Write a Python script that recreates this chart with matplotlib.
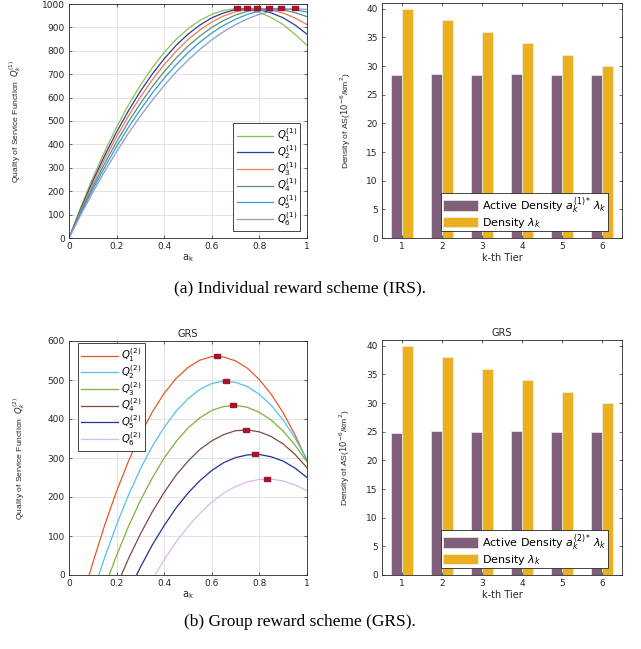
import matplotlib.pyplot as plt

plt.rcParams['font.family'] = ['DejaVu Sans']
plt.rcParams['mathtext.fontset'] = 'dejavusans'

# ---- IRS: quality of service curves Q_k^(1) ----
irs_a = [0.0, 0.05, 0.1, 0.15, 0.2, 0.25, 0.3, 0.35, 0.4, 0.45, 0.5,
         0.55, 0.6, 0.65, 0.7, 0.75, 0.8, 0.85, 0.9, 0.95, 1.0]
irs_q1 = [0, 133, 257, 370, 474, 569, 653, 728, 793, 849, 894,
          930, 956, 973, 980, 977, 964, 942, 912, 870, 824]
irs_q2 = [0, 126, 244, 353, 453, 544, 627, 701, 766, 823, 871,
          910, 941, 962, 976, 980, 976, 962, 941, 910, 871]
irs_q3 = [0, 120, 232, 337, 433, 522, 603, 676, 741, 798, 848,
          889, 923, 949, 967, 977, 980, 974, 961, 940, 912]
irs_q4 = [0, 113, 219, 319, 411, 497, 575, 647, 711, 769, 820,
          863, 900, 930, 953, 969, 978, 980, 975, 963, 946]
irs_q5 = [0, 107, 208, 302, 391, 473, 549, 619, 683, 740, 792,
          837, 876, 909, 935, 956, 970, 978, 980, 975, 966]
irs_q6 = [0, 100, 195, 285, 369, 448, 521, 589, 652, 709, 760,
          806, 847, 882, 912, 937, 956, 969, 977, 980, 977]
irs_peak_a = [0.707, 0.749, 0.790, 0.842, 0.891, 0.950]
irs_peak_q = [983, 983, 983, 983, 983, 983]

# ---- GRS: quality of service curves Q_k^(2) ----
grs_a1 = [0.085, 0.10, 0.15, 0.20, 0.25, 0.30, 0.35, 0.40, 0.45, 0.50, 0.55,
          0.60, 0.65, 0.70, 0.75, 0.80, 0.85, 0.90, 0.95, 1.0]
grs_q1 = [0, 31, 128, 215, 292, 360, 418, 466, 504, 532, 551,
          560, 559, 549, 530, 501, 463, 416, 359, 293]
grs_a2 = [0.125, 0.15, 0.20, 0.25, 0.30, 0.35, 0.40, 0.45, 0.50, 0.55,
          0.60, 0.65, 0.70, 0.75, 0.80, 0.85, 0.90, 0.95, 1.0]
grs_q2 = [0, 45, 129, 205, 272, 330, 379, 420, 452, 476,
          491, 497, 494, 483, 463, 435, 397, 351, 296]
grs_a3 = [0.169, 0.20, 0.25, 0.30, 0.35, 0.40, 0.45, 0.50, 0.55,
          0.60, 0.65, 0.70, 0.75, 0.80, 0.85, 0.90, 0.95, 1.0]
grs_q3 = [0, 50, 125, 191, 249, 300, 342, 377, 403,
          422, 432, 435, 430, 417, 397, 369, 333, 290]
grs_a4 = [0.220, 0.25, 0.30, 0.35, 0.40, 0.45, 0.50, 0.55,
          0.60, 0.65, 0.70, 0.75, 0.80, 0.85, 0.90, 0.95, 1.0]
grs_q4 = [0, 42, 105, 162, 212, 256, 292, 322,
          344, 360, 370, 372, 367, 355, 336, 309, 275]
grs_a5 = [0.284, 0.30, 0.35, 0.40, 0.45, 0.50, 0.55,
          0.60, 0.65, 0.70, 0.75, 0.80, 0.85, 0.90, 0.95, 1.0]
grs_q5 = [0, 20, 77, 127, 172, 210, 242,
          268, 288, 301, 308, 309, 303, 292, 274, 250]
grs_a6 = [0.361, 0.40, 0.45, 0.50, 0.55,
          0.60, 0.65, 0.70, 0.75, 0.80, 0.85, 0.90, 0.95, 1.0]
grs_q6 = [0, 39, 85, 124, 158,
          187, 210, 227, 239, 245, 246, 241, 231, 216]
grs_peak_a = [0.621, 0.661, 0.691, 0.742, 0.781, 0.830]
grs_peak_q = [561, 497, 435, 372, 309, 246]

# ---- bar charts ----
tiers = [1, 2, 3, 4, 5, 6]
density = [40, 38, 36, 34, 32, 30]
active_irs = [28.45, 28.55, 28.5, 28.65, 28.5, 28.5]
active_grs = [24.85, 25.15, 24.9, 25.2, 25.0, 25.0]

irs_colors = ['#8cc152', '#2a3c9c', '#f07a55', '#5a8f72', '#2f9be0', '#8a9ccc']
grs_colors = ['#e2582a', '#55c0ec', '#7db23a', '#7a4b40', '#1f3199', '#d9b8f5']
marker_color = '#a2142f'
purple = '#7f5f7a'
yellow = '#ebb020'
dark = '#262626'

rect = [(-1, -0.55), (1, -0.55), (1, 0.55), (-1, 0.55), (-1, -0.55)]

W, H = 641, 649


def add_axes(x0, y0, x1, y1):
    return fig.add_axes([x0 / W, 1 - y1 / H, (x1 - x0) / W, (y1 - y0) / H])


def style(ax, grid):
    for s in ax.spines.values():
        s.set_linewidth(0.6)
        s.set_color(dark)
    ax.tick_params(direction='in', length=2.5, width=0.5, top=True, right=True,
                   labelsize=6.5, colors=dark, pad=3)
    if grid:
        ax.grid(True, color='#dedede', linewidth=0.6)
        ax.set_axisbelow(True)


def line_legend(ax, loc, anchor):
    leg = ax.legend(loc=loc, bbox_to_anchor=anchor, borderaxespad=0,
                    fontsize=7.3, handlelength=3.6, handletextpad=0.35,
                    labelspacing=-0.12, fancybox=False, framealpha=1,
                    edgecolor=dark, borderpad=0.33)
    leg.get_frame().set_linewidth(0.6)


def bar_legend(ax):
    leg = ax.legend(loc='lower right', bbox_to_anchor=(0.942, 0.03), borderaxespad=0,
                    fontsize=8, handlelength=3.2, handleheight=1.05,
                    handletextpad=0.35, labelspacing=0.0, fancybox=False,
                    framealpha=1, edgecolor=dark, borderpad=0.12)
    leg.get_frame().set_linewidth(0.6)


ylab_font = dict(family=['Liberation Sans', 'DejaVu Sans'], fontsize=6.1)

fig = plt.figure(figsize=(6.41, 6.49), dpi=100)

# ---------- top left ----------
ax = add_axes(69, 4, 307, 238)
style(ax, True)
for i, q in enumerate([irs_q1, irs_q2, irs_q3, irs_q4, irs_q5, irs_q6]):
    ax.plot(irs_a, q, color=irs_colors[i], lw=0.9, label=r'$Q_{%d}^{(1)}$' % (i + 1))
ax.plot(irs_peak_a, irs_peak_q, ls='none', marker=rect, ms=4.8, color=marker_color)
ax.set_xlim(0, 1)
ax.set_ylim(0, 1000)
ax.set_xticks([0, 0.2, 0.4, 0.6, 0.8, 1])
ax.set_xticklabels(['0', '0.2', '0.4', '0.6', '0.8', '1'])
ax.set_yticks(range(0, 1001, 100))
ax.set_xlabel(r'$\mathrm{a_k}$', fontsize=7, color=dark, labelpad=1)
ax.set_ylabel(r'Quality of Service Function  $Q_k^{(1)}$', color=dark, **ylab_font)
ax.yaxis.set_label_coords(-0.195, 0.5)
line_legend(ax, 'lower right', (0.971, 0.03))

# ---------- top right ----------
ax = add_axes(382, 3, 622, 238)
style(ax, False)
ax.bar([t - 0.14 for t in tiers], active_irs, width=0.27, color=purple,
       edgecolor='#eeeeee', linewidth=0.5, label=r'Active Density $a_k^{(1)*}\,\lambda_k$')
ax.bar([t + 0.14 for t in tiers], density, width=0.27, color=yellow,
       edgecolor='#eeeeee', linewidth=0.5, label=r'Density $\lambda_k$')
ax.set_xlim(0.5, 6.5)
ax.set_ylim(0, 41)
ax.set_xticks(tiers)
ax.set_yticks(range(0, 41, 5))
ax.set_xlabel('k-th Tier', fontsize=7, color=dark, labelpad=1)
ax.set_ylabel(r'Density of AS($10^{-6}$/km$^2$)', color=dark, **ylab_font)
ax.yaxis.set_label_coords(-0.12, 0.5)
bar_legend(ax)

# ---------- bottom left ----------
ax = add_axes(69, 341, 307, 575)
style(ax, True)
grs_curves = [(grs_a1, grs_q1), (grs_a2, grs_q2), (grs_a3, grs_q3),
              (grs_a4, grs_q4), (grs_a5, grs_q5), (grs_a6, grs_q6)]
for i, (a, q) in enumerate(grs_curves):
    ax.plot(a, q, color=grs_colors[i], lw=0.9, label=r'$Q_{%d}^{(2)}$' % (i + 1))
ax.plot(grs_peak_a, grs_peak_q, ls='none', marker=rect, ms=4.8, color=marker_color)
ax.set_xlim(0, 1)
ax.set_ylim(0, 600)
ax.set_xticks([0, 0.2, 0.4, 0.6, 0.8, 1])
ax.set_xticklabels(['0', '0.2', '0.4', '0.6', '0.8', '1'])
ax.set_yticks(range(0, 601, 100))
ax.set_title('GRS', fontsize=7, color=dark, pad=3)
ax.set_xlabel(r'$\mathrm{a_k}$', fontsize=7, color=dark, labelpad=1)
ax.set_ylabel(r'Quality of Service Function  $Q_k^{(2)}$', color=dark, **ylab_font)
ax.yaxis.set_label_coords(-0.176, 0.5)
line_legend(ax, 'upper left', (0.038, 0.991))

# ---------- bottom right ----------
ax = add_axes(382, 340, 622, 575)
style(ax, False)
ax.bar([t - 0.14 for t in tiers], active_grs, width=0.27, color=purple,
       edgecolor='#eeeeee', linewidth=0.5, label=r'Active Density $a_k^{(2)*}\,\lambda_k$')
ax.bar([t + 0.14 for t in tiers], density, width=0.27, color=yellow,
       edgecolor='#eeeeee', linewidth=0.5, label=r'Density $\lambda_k$')
ax.set_xlim(0.5, 6.5)
ax.set_ylim(0, 41)
ax.set_xticks(tiers)
ax.set_yticks(range(0, 41, 5))
ax.set_title('GRS', fontsize=7, color=dark, pad=3)
ax.set_xlabel('k-th Tier', fontsize=7, color=dark, labelpad=1)
ax.set_ylabel(r'Density of AS($10^{-6}$/km$^2$)', color=dark, **ylab_font)
ax.yaxis.set_label_coords(-0.125, 0.5)
bar_legend(ax)

# ---------- captions ----------
fig.text(300 / W, 1 - 288 / H, '(a) Individual reward scheme (IRS).',
         ha='center', va='center', family='Liberation Serif', fontsize=12.5)
fig.text(300 / W, 1 - 622 / H, '(b) Group reward scheme (GRS).',
         ha='center', va='center', family='Liberation Serif', fontsize=12.5)

fig.savefig('out.png', dpi=100)
